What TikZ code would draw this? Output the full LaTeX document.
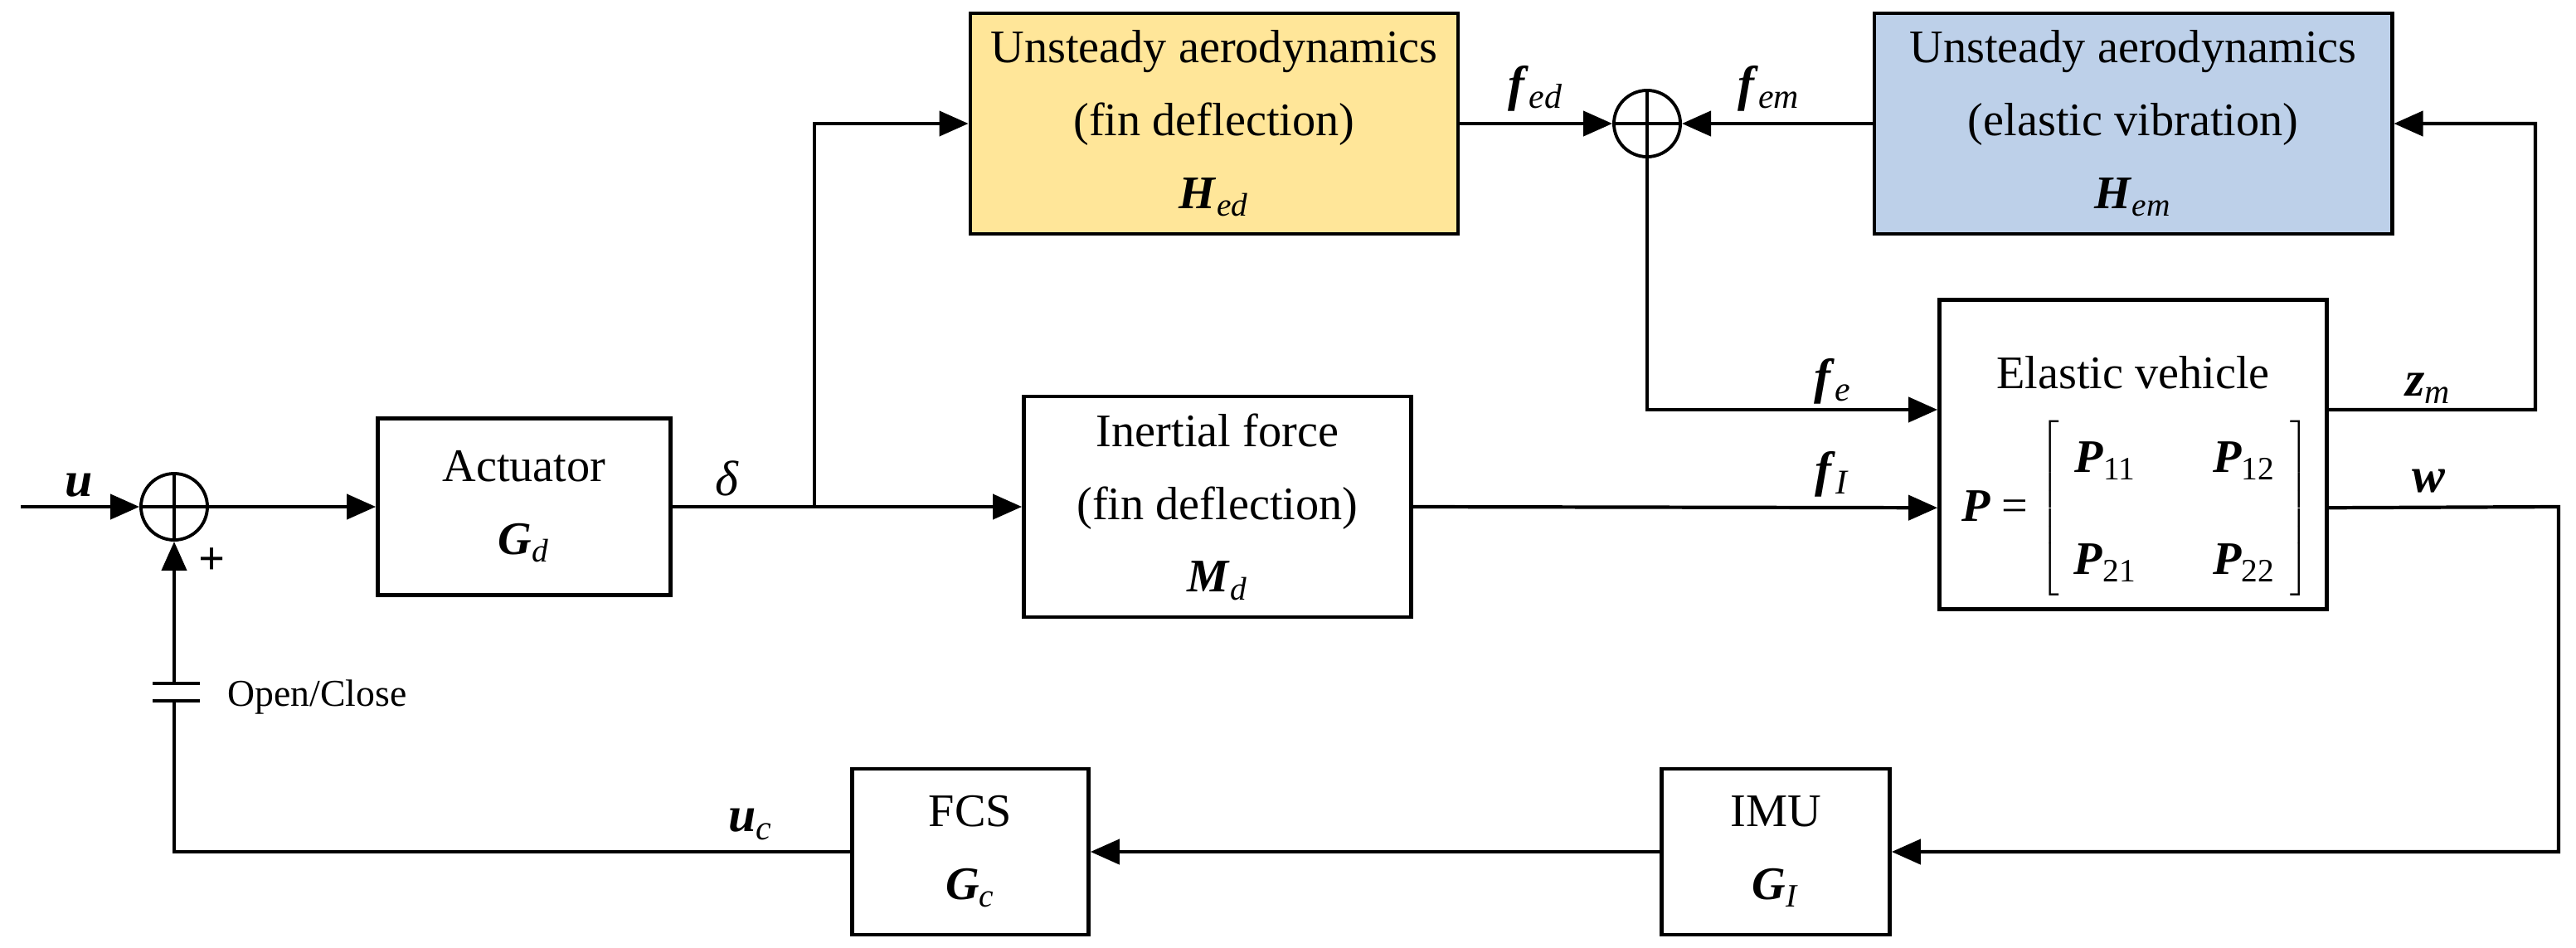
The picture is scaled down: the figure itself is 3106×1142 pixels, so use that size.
\documentclass[tikz,border=0pt]{standalone}
\usepackage{fontspec}
\setmainfont{Liberation Serif}
\usetikzlibrary{arrows.meta,calc}
\newcommand\bvar[2]{\textbf{\textit{#1}}\textsubscript{\mdseries\textit{#2}}}
\newcommand\bnum[2]{\textbf{\textit{#1}}\textsubscript{\mdseries\upshape #2}}
\definecolor{yel}{HTML}{FFE699}
\definecolor{blu}{HTML}{BDD0E9}
\begin{document}
\begin{tikzpicture}[x=0.01cm,y=-0.01cm,
  blk/.style={draw,line width=1.3pt,align=center,font=\fontsize{16}{25}\selectfont,inner sep=0pt},
  txt/.style={align=center,font=\fontsize{16}{25}\selectfont,inner sep=0pt},
  sum/.style={draw,line width=1.1pt,circle,minimum size=0.8cm,inner sep=0pt},
  ln/.style={line width=1.2pt},
  ar/.style={ln,-{Triangle[length=0.35cm,width=0.3cm]}},
  lab/.style={font=\fontsize{17}{20}\selectfont}]
\useasboundingbox (0,0) rectangle (3106,1142);
\node[blk,minimum width=3.53cm,minimum height=2.13cm] (act) at (632,611) {Actuator\\\bvar{G}{d}};
\node[blk,fill=yel,minimum width=5.88cm,minimum height=2.66cm] (hed) at (1464,149) {Unsteady aerodynamics\\(fin deflection)\\\bvar{H}{ed}};
\node[blk,fill=blu,minimum width=6.24cm,minimum height=2.66cm] (hem) at (2572,149) {Unsteady aerodynamics\\(elastic vibration)\\\bvar{H}{em}};
\node[blk,minimum width=4.67cm,minimum height=2.66cm] (inert) at (1468,611) {Inertial force\\(fin deflection)\\\bvar{M}{d}};
\node[blk,minimum width=4.67cm,minimum height=3.73cm] (ev) at (2572,548) {};
\node[txt] (evt) at (2572,449) {Elastic vehicle};
\node[txt] (evm) at (2575,613) {\textbf{\textit{P}} = $\left[\begin{array}{cc}\mbox{\bnum{P}{11}}\quad & \mbox{\bnum{P}{12}}\\[10pt] \mbox{\bnum{P}{21}}\quad & \mbox{\bnum{P}{22}}\end{array}\right]$};
\node[blk,minimum width=2.85cm,minimum height=2.0cm] (fcs) at (1170,1027) {FCS\\\bvar{G}{c}};
\node[blk,minimum width=2.75cm,minimum height=2.0cm] (imu) at (2141,1027) {IMU\\\bvar{G}{I}};
\node[sum] (s1) at (210,611) {};
\node[sum] (s2) at (1986,149) {};
\draw[line width=1.1pt] (s1.north)--(s1.south) (s1.west)--(s1.east) (s2.north)--(s2.south) (s2.west)--(s2.east);
\coordinate (in) at (25,611);
\coordinate (br) at (982,611);
\coordinate (fe) at ($(ev.north west)!0.357!(ev.south west)$);
\coordinate (fi) at ($(ev.north west)!0.67!(ev.south west)$);
\coordinate (zm) at ($(ev.north east)!0.357!(ev.south east)$);
\coordinate (wo) at ($(ev.north east)!0.67!(ev.south east)$);
\coordinate (zr) at (3057,494);
\coordinate (wr) at (3085,611);
\coordinate (fb) at (210,1027);
\coordinate (swa) at (210,845);
\coordinate (swb) at (210,824);
\draw[ar] (in) -- (s1.west);
\draw[ar] (s1.east) -- (act.west);
\draw[ln] (act.east) -- (br);
\draw[ar] (br) -- (inert.west);
\draw[ar] (br) |- (hed.west);
\draw[ar] (hed.east) -- (s2.west);
\draw[ar] (hem.west) -- (s2.east);
\draw[ar] (s2.south) |- (fe);
\draw[ar] (inert.east) -- (fi);
\draw[ar] (zm) -- (zr) |- (hem.east);
\draw[ar] (wo) -- (wr) |- (imu.east);
\draw[ar] (imu.west) -- (fcs.east);
\draw[ln] (fcs.west) -- (fb) -- (swa);
\draw[ar] (swb) -- (s1.south);
\draw[ln] (184,824) -- (241,824) (184,845) -- (241,845);
\node[font=\fontsize{13}{15}\selectfont,anchor=west] at (262,840) {Open/Close};
\node[lab] at (95,585) {\textbf{\textit{u}}};
\node[font=\bfseries\fontsize{16}{16}\selectfont] at (256,677) {+};
\node[lab] at (877,577) {\textit{δ}};
\node[lab] at (905,994) {\bvar{u}{c}};
\node[lab] at (1852,107) {\bvar{f}{ed}};
\node[lab] at (2133,107) {\bvar{f}{em}};
\node[lab] at (2210,460) {\bvar{f}{e}};
\node[lab] at (2210,572) {\bvar{f}{I}};
\node[lab] at (2928,468) {\bvar{z}{m}};
\node[lab] at (2928,580) {\textbf{\textit{w}}};
\end{tikzpicture}
\end{document}
